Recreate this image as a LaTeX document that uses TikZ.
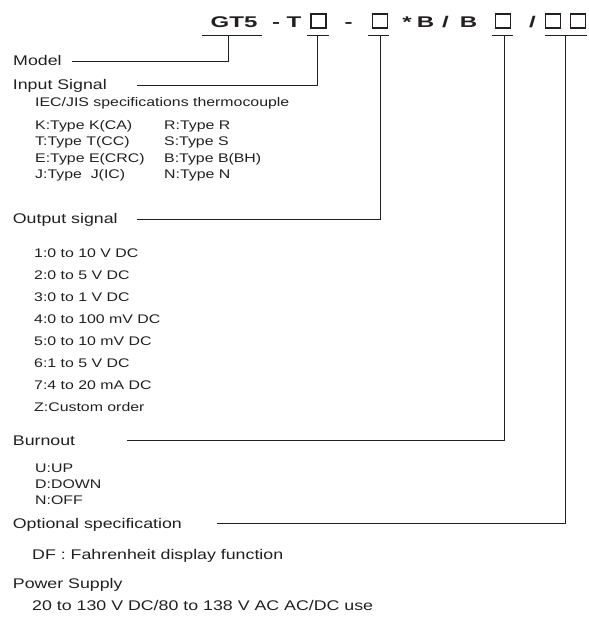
\documentclass[tikz,border=0pt]{standalone}
\usepackage{fontspec}
\setmainfont{Liberation Sans}
\newfontfamily\bodyfont{Liberation Sans}[FakeStretch=1.27]
\newfontfamily\titlefont{Liberation Sans}[FakeStretch=1.55]
\definecolor{ink}{HTML}{231F20}
\tikzset{
  hdr/.style={anchor=base west, inner sep=0pt, text=ink, font=\bodyfont\fontsize{14}{16}\selectfont},
  item/.style={anchor=base west, inner sep=0pt, text=ink, font=\bodyfont\fontsize{12.5}{15}\selectfont},
  big/.style={anchor=base west, inner sep=0pt, text=ink, font=\bodyfont\fontsize{14}{16}\selectfont},
  ttl/.style={anchor=base, inner sep=0pt, text=ink, font=\titlefont\bfseries\fontsize{15.5}{18}\selectfont},
  sq/.style={draw=ink, line width=1.2pt, minimum width=15pt, minimum height=14pt, inner sep=0pt},
  ln/.style={draw=ink, line width=0.8pt},
}
\begin{document}
\begin{tikzpicture}[x=1pt,y=-1pt]
\useasboundingbox (0,0) rectangle (588,617);
% title
\node[ttl] (gt5) at (234,27.7) {GT5};
\node[ttl] (d1) at (276,27.7) {-};
\node[ttl] (t) at (294,27.7) {T};
\node[sq] (b1) at (318.5,21) {};
\node[ttl] (d2) at (348.5,27.7) {-};
\node[sq] (b2) at (380,21) {};
\node[ttl] (ast) at (407,27.7) {*};
\node[ttl] (bb1) at (425.5,27.7) {B};
\node[ttl] (sl1) at (445.5,27.7) {/};
\node[ttl] (bb2) at (468.5,27.7) {B};
\node[sq] (b3) at (503,21) {};
\node[ttl] (sl2) at (532.5,27.7) {/};
\node[sq] (b4) at (553,21) {};
\node[sq] (b5) at (578,21) {};
% underlines
\draw[ln] (202,35.5) -- (262,35.5);
\draw[ln] (307,35.5) -- (329,35.5);
\draw[ln] (368,35.5) -- (389,35.5);
\draw[ln] (492,35.5) -- (513,35.5);
\draw[ln] (545,35.5) -- (587,35.5);
\coordinate (v0) at (228,35.5);
\coordinate (v1) at (317,35.5);
\coordinate (v2) at (380,35.5);
\coordinate (v3) at (504,35.5);
\coordinate (v4) at (565,35.5);
% headers
\node[hdr] (model) at (13,66) {Model};
\node[hdr] (input) at (12.7,90) {Input Signal};
\node[item] (iec) at (35,107) {IEC/JIS specifications thermocouple};
\node[item] (k) at (35,129.5) {K:Type K(CA)};
\node[item] (tt) at (35,146) {T:Type T(CC)};
\node[item] (e) at (35,162.5) {E:Type E(CRC)};
\node[item] (j) at (35,179) {J:Type\ \ J(IC)};
\node[item] (r) at (164,129.5) {R:Type R};
\node[item] (s) at (164,146) {S:Type S};
\node[item] (b) at (164,162.5) {B:Type B(BH)};
\node[item] (n) at (164,179) {N:Type N};
\node[hdr] (output) at (12.7,224) {Output signal};
\foreach \t [count=\i from 0] in {1:0 to 10 V DC,2:0 to 5 V DC,3:0 to 1 V DC,4:0 to 100 mV DC,5:0 to 10 mV DC,6:1 to 5 V DC,7:4 to 20 mA DC,Z:Custom order}
  \node[item] (o\i) at (34,257+22*\i) {\t};
\node[hdr] (burn) at (12.7,445.5) {Burnout};
\node[item] (up) at (35,472.5) {U:UP};
\node[item] (down) at (35,488.5) {D:DOWN};
\node[item] (off) at (35,504.5) {N:OFF};
\node[hdr] (opt) at (12.7,528) {Optional specification};
\node[big] (df) at (32,559) {DF : Fahrenheit display function};
\node[hdr] (pow) at (12.7,588) {Power Supply};
\node[big] (pv) at (32,610) {20 to 130 V DC/80 to 138 V AC AC/DC use};
% connectors
\coordinate (e0) at (72,61);
\coordinate (e1) at (137,85);
\coordinate (e2) at (137,219);
\coordinate (e3) at (127,440.5);
\coordinate (e4) at (217,523);
\draw[ln] (v0) |- (e0);
\draw[ln] (v1) |- (e1);
\draw[ln] (v2) |- (e2);
\draw[ln] (v3) |- (e3);
\draw[ln] (v4) |- (e4);
\end{tikzpicture}
\end{document}
